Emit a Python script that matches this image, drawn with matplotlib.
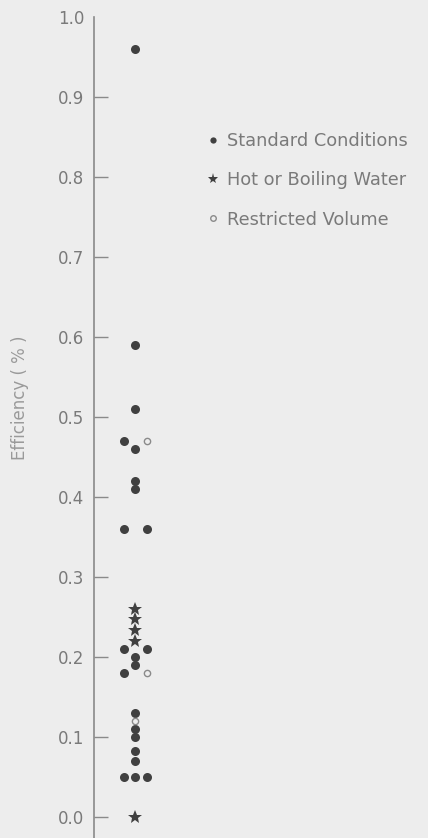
import matplotlib
matplotlib.use("Agg")
import matplotlib.pyplot as plt
from matplotlib.lines import Line2D

# ---- data ----
std_col = [0, 0, 0, -1, 0, 0, 0, -1, 1, -1, 1, 0, 0, -1, 0, 0, 0, 0, 0, -1, 0, 1]
std_eff = [0.96, 0.59, 0.51, 0.47, 0.46, 0.42, 0.41, 0.36, 0.36, 0.21, 0.21, 0.20,
           0.19, 0.18, 0.13, 0.11, 0.10, 0.083, 0.07, 0.05, 0.05, 0.05]
hot_col = [0, 0, 0, 0, 0]
hot_eff = [0.26, 0.248, 0.234, 0.22, 0.0]
rv_col = [1, 1, 0]
rv_eff = [0.47, 0.18, 0.12]
yticks = [0.0, 0.1, 0.2, 0.3, 0.4, 0.5, 0.6, 0.7, 0.8, 0.9, 1.0]
ytick_labels = ["0.0", "0.1", "0.2", "0.3", "0.4", "0.5", "0.6", "0.7", "0.8", "0.9", "1.0"]
labels = ["Standard Conditions", "Hot or Boiling Water", "Restricted Volume"]

W, H = 428, 838
bg = "#ededed"
txt = "#7a7a7a"
ink = "#404040"

fig = plt.figure(figsize=(W / 100, H / 100), dpi=100, facecolor=bg)
ax_left = 94 / W
ax_top = 17 / H
ax = fig.add_axes([ax_left, 0, 1 - ax_left, 1 - ax_top])
ax.set_facecolor(bg)

ax.plot(std_col, std_eff, linestyle="none", marker="o", markersize=6.5,
        color=ink, markeredgewidth=0)
ax.plot(hot_col, hot_eff, linestyle="none", marker="*", markersize=10,
        color=ink, markeredgewidth=0)
ax.plot(rv_col, rv_eff, linestyle="none", marker="o", markersize=4.5,
        markerfacecolor="none", markeredgecolor="#8a8a8a", markeredgewidth=1.0)

# x scale: columns ~11.5 px apart, centre column at x=135 px
step = 11.5
ax.set_xlim(-(135 - 94) / step, (428 - 135) / step)
ax.set_ylim(-(838 - 817) / 800, 1.0)

for s in ["top", "right", "bottom"]:
    ax.spines[s].set_visible(False)
ax.spines["left"].set_color("#8a8a8a")
ax.spines["left"].set_linewidth(1.2)
ax.set_xticks([])
ax.set_yticks(yticks)
ax.set_yticklabels(ytick_labels)
ax.tick_params(axis="y", direction="in", length=10, width=1.0, color="#8a8a8a",
               labelcolor=txt, labelsize=12, pad=7)
ax.yaxis.get_major_ticks()[-1].tick1line.set_visible(False)

fig.text(20 / W, 1 - 398 / H, "Efficiency ( % )", rotation=90, ha="center",
         va="center", fontsize=12, color="#9a9a9a")

handles = [
    Line2D([], [], linestyle="none", marker="o", markersize=4.5, color=ink, markeredgewidth=0),
    Line2D([], [], linestyle="none", marker="*", markersize=8, color=ink, markeredgewidth=0),
    Line2D([], [], linestyle="none", marker="o", markersize=4, markerfacecolor="none",
           markeredgecolor="#8a8a8a", markeredgewidth=1.0),
]
leg = fig.legend(handles, labels, loc="upper left",
                 bbox_to_anchor=(207 / W, 1 - 132 / H), frameon=False,
                 borderpad=0, borderaxespad=0, handlelength=0.7, handletextpad=0.45,
                 labelspacing=1.2, prop={"size": 12.8})
for t in leg.get_texts():
    t.set_color(txt)

fig.savefig("out.png", dpi=100, facecolor=bg)
